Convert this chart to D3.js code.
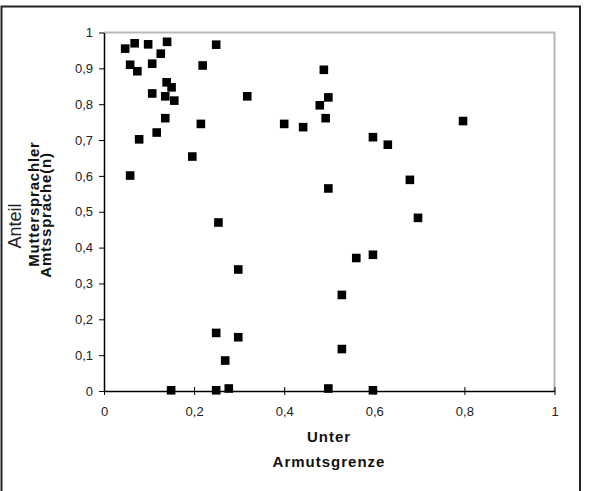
<!DOCTYPE html>
<html><head><meta charset="utf-8">
<script src="https://cdn.jsdelivr.net/npm/d3@7"></script>
<style>body{margin:0;background:#fff}svg{display:block}</style>
</head><body><div id="chart"></div>
<script>
const armut = [0.047,0.068,0.098,0.140,0.126,0.249,0.058,0.074,0.107,0.219,0.488,0.139,0.150,0.107,0.136,0.156,0.318,0.498,0.479,0.492,0.136,0.215,0.400,0.442,0.797,0.117,0.078,0.597,0.630,0.196,0.058,0.679,0.498,0.254,0.697,0.560,0.597,0.298,0.528,0.249,0.298,0.528,0.269,0.149,0.249,0.277,0.498,0.597];
const anteil = [0.955,0.970,0.967,0.974,0.941,0.966,0.910,0.892,0.913,0.908,0.896,0.861,0.847,0.830,0.822,0.810,0.822,0.819,0.797,0.761,0.761,0.745,0.745,0.736,0.753,0.721,0.702,0.708,0.687,0.654,0.601,0.589,0.565,0.470,0.483,0.371,0.380,0.339,0.268,0.162,0.150,0.117,0.085,0.002,0.002,0.007,0.007,0.002];
const xTicks = [0,0.2,0.4,0.6,0.8,1];
const yTicks = [0,0.1,0.2,0.3,0.4,0.5,0.6,0.7,0.8,0.9,1];
const fmt = v => String(v).replace('.', ',');

const W = 591, H = 491;
const svg = d3.select('#chart').append('svg').attr('width', W).attr('height', H);
// outer frame (no bottom edge visible)
svg.append('path').attr('d', 'M1.5,491 V6.5 H580 V491').attr('fill','none').attr('stroke','#222').attr('stroke-width',2);

const x = d3.scaleLinear().domain([0,1]).range([104,554.5]);
const y = d3.scaleLinear().domain([0,1]).range([391,32.5]);

// plot frame top/right gray
svg.append('path').attr('d', `M${x(0)},${y(1)} H${x(1)} V${y(0)}`).attr('fill','none').attr('stroke','#b8b8b8').attr('stroke-width',2);

const xAxis = svg.append('g').attr('transform', `translate(0,${y(0)})`)
  .call(d3.axisBottom(x).tickValues(xTicks).tickFormat(fmt).tickSize(4).tickSizeOuter(0));
xAxis.selectAll('.tick line').attr('y1', -4).attr('y2', 4);
xAxis.selectAll('text').attr('dy', null).attr('y', 25);
const yAxis = svg.append('g').attr('transform', `translate(${x(0)},0)`)
  .call(d3.axisLeft(y).tickValues(yTicks).tickFormat(fmt).tickSize(5).tickSizeOuter(0));
yAxis.selectAll('text').attr('x', -11);
svg.selectAll('.domain').attr('stroke','#000').attr('stroke-width',1.5);
svg.selectAll('.tick line').attr('stroke','#000');
svg.selectAll('.tick text').attr('font-family','Liberation Sans, Arial, sans-serif').attr('font-size',13).attr('fill','#222');

const s = 8.6;
svg.append('g').selectAll('rect').data(armut).join('rect')
  .attr('x', (d,i) => x(d) - s/2).attr('y', (d,i) => y(anteil[i]) - s/2)
  .attr('width', s).attr('height', s).attr('fill','#000');

const bold = {'font-family':'Liberation Sans, Arial, sans-serif','font-weight':'bold','font-size':15,'fill':'#111','text-anchor':'middle'};
function txt(t, tx, ty, attrs, rot){
  const e = svg.append('text').text(t).attr('transform', `translate(${tx},${ty})` + (rot ? ' rotate(-90)' : ''));
  for (const k in attrs) e.attr(k, attrs[k]);
  return e;
}
txt('Unter', 329, 442, Object.assign({}, bold, {'letter-spacing':'1px'}));
txt('Armutsgrenze', 329, 467, Object.assign({}, bold, {'letter-spacing':'1px'}));
txt('Anteil', 21, 226, {'font-family':'Liberation Sans, Arial, sans-serif','font-size':18,'fill':'#222','text-anchor':'middle'}, true);
txt('Muttersprachler', 38.5, 204, Object.assign({}, bold, {'letter-spacing':'0.8px'}), true);
txt('Amtssprache(n)', 50.5, 215, Object.assign({}, bold, {'letter-spacing':'0.8px'}), true);
</script></body></html>
